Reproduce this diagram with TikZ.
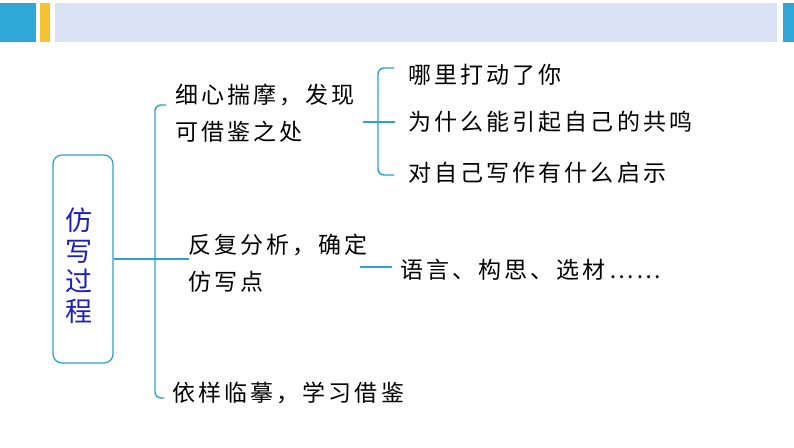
\documentclass[tikz,border=0pt]{standalone}
\usepackage{fontspec}
\newfontfamily\cjk[LetterSpace=13.5]{Noto Sans CJK SC}
\newfontfamily\cjktitle{Noto Sans CJK SC}
\definecolor{hblue}{HTML}{2FA8D8}
\definecolor{hyellow}{HTML}{F5C232}
\definecolor{hband}{HTML}{DAE3F3}
\definecolor{lineblue}{HTML}{2E9FD2}
\definecolor{titleblue}{HTML}{1E20B8}
\begin{document}
\begin{tikzpicture}[x=1pt,y=-1pt,
  conn/.style={draw=lineblue,line width=1.4pt},
  txt/.style={anchor=west,inner sep=0pt,font=\cjk\fontsize{23}{37}\selectfont,text=black,align=left},
  titlebox/.style={draw=lineblue,line width=1.2pt,rounded corners=9pt,minimum width=60pt,minimum height=208pt,inner sep=0pt}]
\useasboundingbox (0,0) rectangle (794,447);
\fill[white] (0,0) rectangle (794,447);
% header
\fill[hblue] (0,3) rectangle (36,42);
\fill[hyellow] (40,3) rectangle (50,42);
\fill[hband] (55,3) rectangle (777,42);
\fill[hblue] (783,3) rectangle (794,42);
% title box
\node[titlebox] (title) at (83,259) {};
\node[inner sep=0pt,font=\cjktitle\fontsize{27}{30.3}\selectfont,text=titleblue,align=center] (tt) at (79,266) {仿\\写\\过\\程};
% level-1 texts
\node[txt] (a) at (175,113.5) {细心揣摩，发现\\可借鉴之处};
\node[txt] (b) at (188,263.5) {反复分析，确定\\仿写点};
\node[txt] (c) at (172,393) {依样临摹，学习借鉴};
% level-2 texts
\node[txt] (a1) at (408,75) {哪里打动了你};
\node[txt] (a2) at (408,122) {为什么能引起自己的共鸣};
\node[txt] (a3) at (408,173) {对自己写作有什么启示};
\node[txt] (b1) at (400,270) {语言、构思、选材……};
% spine
\coordinate (s1) at (166,105);
\coordinate (s3) at (164,398);
\draw[conn,rounded corners=6pt] (s1) -- (155,105) -- (155,398) -- (s3);
\draw[conn] (title.east) -- (189,259);
% right bracket
\coordinate (r1) at (394,68);
\coordinate (r3) at (394,175);
\draw[conn,rounded corners=6pt] (r1) -- (378,68) -- (378,175) -- (r3);
\draw[conn] (363,122) -- (395,122);
% middle line
\draw[conn] (360,267) -- (392,267);
\end{tikzpicture}
\end{document}
